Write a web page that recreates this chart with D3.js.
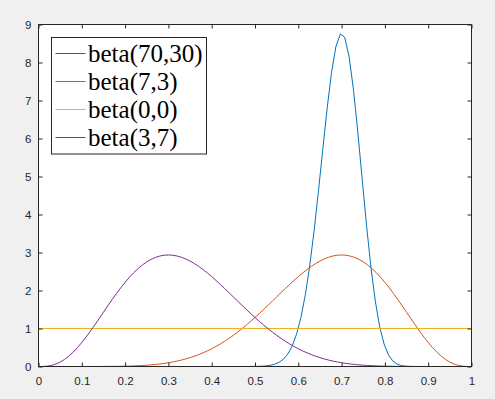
<!DOCTYPE html>
<html>
<head>
<meta charset="utf-8">
<script src="https://cdn.jsdelivr.net/npm/d3@7"></script>
<style>
  html, body { margin: 0; padding: 0; background: #f0f0f0; }
  svg { display: block; }
</style>
</head>
<body>
<script>
// ---------- data ----------
const seriesNames = ["beta(70,30)", "beta(7,3)", "beta(0,0)", "beta(3,7)"];
const seriesColors = ["#0072BD", "#D95319", "#EDB120", "#7E2F8E"];

const xTicks = [0, 0.1, 0.2, 0.3, 0.4, 0.5, 0.6, 0.7, 0.8, 0.9, 1];
const xTickLabels = ["0", "0.1", "0.2", "0.3", "0.4", "0.5", "0.6", "0.7", "0.8", "0.9", "1"];
const yTicks = [0, 1, 2, 3, 4, 5, 6, 7, 8, 9];
const yTickLabels = ["0", "1", "2", "3", "4", "5", "6", "7", "8", "9"];

// x grid for the blue curve (only where it leaves zero, plus endpoints)
const xBlue = [0, 0.4646, 0.4747, 0.4848, 0.4949, 0.5051, 0.5152, 0.5253, 0.5354, 0.5455, 0.5556,
  0.5657, 0.5758, 0.5859, 0.5960, 0.6061, 0.6162, 0.6263, 0.6364, 0.6465, 0.6566,
  0.6667, 0.6768, 0.6869, 0.6970, 0.7071, 0.7172, 0.7273, 0.7374, 0.7475, 0.7576,
  0.7677, 0.7778, 0.7879, 0.7980, 0.8081, 0.8182, 0.8283, 0.8384, 0.8485, 0.8586,
  0.8687, 0.8788, 1];
const blueValues = [0, 0.0001, 0.0003, 0.0007, 0.0016, 0.0035, 0.0075, 0.0156, 0.031, 0.0593, 0.1092,
  0.1933, 0.3293, 0.5401, 0.8521, 1.2928, 1.8863, 2.6448, 3.5638, 4.6092, 5.7183,
  6.7993, 7.7402, 8.4227, 8.7511, 8.6651, 8.1623, 7.2973, 6.177, 4.936, 3.712,
  2.6166, 1.7221, 1.0523, 0.5942, 0.3075, 0.1449, 0.0616, 0.0234, 0.0078, 0.0023,
  0.0006, 0.0001, 0];

// x grid for the orange and purple curves
const xGrid = [0, 0.01, 0.02, 0.03, 0.04, 0.05, 0.06, 0.07, 0.08, 0.09, 0.1,
  0.11, 0.12, 0.13, 0.14, 0.15, 0.16, 0.17, 0.18, 0.19, 0.2,
  0.21, 0.22, 0.23, 0.24, 0.25, 0.26, 0.27, 0.28, 0.29, 0.3,
  0.31, 0.32, 0.33, 0.34, 0.35, 0.36, 0.37, 0.38, 0.39, 0.4,
  0.41, 0.42, 0.43, 0.44, 0.45, 0.46, 0.47, 0.48, 0.49, 0.5,
  0.51, 0.52, 0.53, 0.54, 0.55, 0.56, 0.57, 0.58, 0.59, 0.6,
  0.61, 0.62, 0.63, 0.64, 0.65, 0.66, 0.67, 0.68, 0.69, 0.7,
  0.71, 0.72, 0.73, 0.74, 0.75, 0.76, 0.77, 0.78, 0.79, 0.8,
  0.81, 0.82, 0.83, 0.84, 0.85, 0.86, 0.87, 0.88, 0.89, 0.9,
  0.91, 0.92, 0.93, 0.94, 0.95, 0.96, 0.97, 0.98, 0.99, 1];
const orangeValues = [0, 0, 0, 0, 0, 0.000001, 0.000003, 0.000009, 0.000022, 0.000048, 0.0001,
  0.00018, 0.00032, 0.00055, 0.00089, 0.00139, 0.0021, 0.0031, 0.00446, 0.00627, 0.00865,
  0.01172, 0.01563, 0.02052, 0.02658, 0.03399, 0.04296, 0.05371, 0.06648, 0.0815, 0.09902,
  0.1193, 0.1426, 0.1692, 0.1993, 0.2332, 0.2712, 0.3134, 0.3599, 0.4112, 0.4671,
  0.528, 0.5937, 0.6645, 0.7401, 0.8206, 0.9059, 0.9956, 1.0896, 1.1876, 1.2891,
  1.3936, 1.5008, 1.6099, 1.7203, 1.8312, 1.942, 2.0516, 2.1594, 2.2641, 2.365,
  2.4608, 2.5507, 2.6337, 2.7086, 2.7744, 2.8302, 2.875, 2.908, 2.9282, 2.9351,
  2.928, 2.9065, 2.8702, 2.8191, 2.7531, 2.6724, 2.5774, 2.4689, 2.3476, 2.2146,
  2.0712, 1.9191, 1.7598, 1.5955, 1.4282, 1.2602, 1.094, 0.9322, 0.7771, 0.6314,
  0.4973, 0.377, 0.2724, 0.1849, 0.1152, 0.0635, 0.0288, 0.0092, 0.0012, 0];
const purpleValues = [0, 0.0012, 0.0092, 0.0288, 0.0635, 0.1152, 0.1849, 0.2724, 0.377, 0.4973, 0.6314,
  0.7771, 0.9322, 1.094, 1.2602, 1.4282, 1.5955, 1.7598, 1.9191, 2.0712, 2.2146,
  2.3476, 2.4689, 2.5774, 2.6724, 2.7531, 2.8191, 2.8702, 2.9065, 2.928, 2.9351,
  2.9282, 2.908, 2.875, 2.8302, 2.7744, 2.7086, 2.6337, 2.5507, 2.4608, 2.365,
  2.2641, 2.1594, 2.0516, 1.942, 1.8312, 1.7203, 1.6099, 1.5008, 1.3936, 1.2891,
  1.1876, 1.0896, 0.9956, 0.9059, 0.8206, 0.7401, 0.6645, 0.5937, 0.528, 0.4671,
  0.4112, 0.3599, 0.3134, 0.2712, 0.2332, 0.1993, 0.1692, 0.1426, 0.1193, 0.09902,
  0.0815, 0.06648, 0.05371, 0.04296, 0.03399, 0.02658, 0.02052, 0.01563, 0.01172, 0.00865,
  0.00627, 0.00446, 0.0031, 0.0021, 0.00139, 0.00089, 0.00055, 0.00032, 0.00018, 0.0001,
  0.000048, 0.000022, 0.000009, 0.000003, 0.000001, 0, 0, 0, 0, 0];

// uniform line
const xUniform = [0, 1];
const uniformValues = [1, 1];

// ---------- drawing ----------
const W = 495, H = 399;
const pLeft = 38.5, pRight = 471.5, pTop = 24.5, pBottom = 366.5;

const svg = d3.select("body").append("svg")
  .attr("width", W).attr("height", H)
  .style("background", "#f0f0f0");

const x = d3.scaleLinear().domain([0, 1]).range([pLeft, pRight]);
const y = d3.scaleLinear().domain([0, 9]).range([pBottom, pTop]);

// white plot area
svg.append("rect")
  .attr("x", pLeft).attr("y", pTop)
  .attr("width", pRight - pLeft).attr("height", pBottom - pTop)
  .attr("fill", "#ffffff");

// series
const series = [
  { xs: xBlue, ys: blueValues, color: seriesColors[0] },
  { xs: xGrid, ys: orangeValues, color: seriesColors[1] },
  { xs: xUniform, ys: uniformValues, color: seriesColors[2] },
  { xs: xGrid, ys: purpleValues, color: seriesColors[3] }
];
const line = d3.line().x(d => x(d[0])).y(d => y(d[1]));
series.forEach(s => {
  svg.append("path")
    .datum(s.xs.map((v, i) => [v, s.ys[i]]))
    .attr("fill", "none")
    .attr("stroke", s.color)
    .attr("stroke-width", 1)
    .attr("stroke-linejoin", "round")
    .attr("d", line);
});

const axisColor = "#262626";
const tickLen = 4;
const fontSans = "'Liberation Sans', Arial, Helvetica, sans-serif";

// axes (ticks inside, box on)
const xAxisB = d3.axisBottom(x).tickValues(xTicks).tickSize(-tickLen).tickPadding(10)
  .tickFormat((d, i) => xTickLabels[i]);
const xAxisT = d3.axisTop(x).tickValues(xTicks).tickSize(-tickLen).tickFormat("");
const yAxisL = d3.axisLeft(y).tickValues(yTicks).tickSize(-tickLen).tickPadding(7)
  .tickFormat((d, i) => yTickLabels[i]);
const yAxisR = d3.axisRight(y).tickValues(yTicks).tickSize(-tickLen).tickFormat("");

function styleAxis(g) {
  g.selectAll("path").attr("stroke", axisColor).attr("stroke-width", 1);
  g.selectAll("line").attr("stroke", axisColor).attr("stroke-width", 1);
  g.selectAll("text").attr("fill", axisColor)
    .style("font-family", fontSans).style("font-size", "11.5px");
}
svg.append("g").attr("transform", `translate(0,${pBottom})`).call(xAxisB).call(styleAxis)
  .call(g => g.select(".domain").attr("d", `M${pLeft},0H${pRight}`));
svg.append("g").attr("transform", `translate(0,${pTop})`).call(xAxisT).call(styleAxis)
  .call(g => g.select(".domain").attr("d", `M${pLeft},0H${pRight}`));
svg.append("g").attr("transform", `translate(${pLeft},0)`).call(yAxisL).call(styleAxis)
  .call(g => g.select(".domain").attr("d", `M0,${pTop}V${pBottom}`));
svg.append("g").attr("transform", `translate(${pRight},0)`).call(yAxisR).call(styleAxis)
  .call(g => g.select(".domain").attr("d", `M0,${pTop}V${pBottom}`));

// legend
const lg = svg.append("g");
const lgX = 51.5, lgY = 37.5, lgW = 155, lgH = 116.5, rowH = 28;
lg.append("rect")
  .attr("x", lgX).attr("y", lgY).attr("width", lgW).attr("height", lgH)
  .attr("fill", "#ffffff").attr("stroke", "#262626").attr("stroke-width", 1);
seriesNames.forEach((name, i) => {
  const cy = 53.5 + i * rowH;
  lg.append("line")
    .attr("x1", 55.5).attr("x2", 85.5).attr("y1", cy).attr("y2", cy)
    .attr("stroke", seriesColors[i]).attr("stroke-width", 1);
  lg.append("text")
    .attr("x", 88).attr("y", cy + 8.3)
    .attr("fill", "#000000")
    .style("font-family", "'Liberation Serif', 'Times New Roman', serif")
    .style("font-size", "25px")
    .text(name);
});
</script>
</body>
</html>
